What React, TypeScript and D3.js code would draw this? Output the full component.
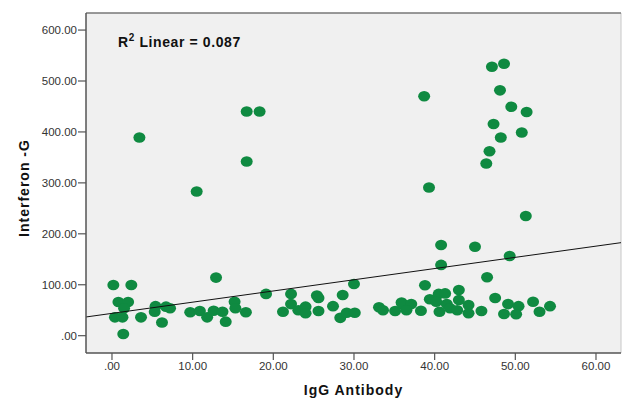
import React from "react";
import * as d3 from "d3";

const igg = [
  0.17, 2.4, 0.8, 2.0, 1.5, 0.37, 1.3, 3.6, 1.4, 5.4, 6.7, 7.2, 5.3, 6.2, 3.4,
  9.7, 10.9, 11.8, 12.6, 13.7, 14.1, 12.9, 15.2, 15.3, 16.6, 19.1, 10.5, 16.7, 18.3, 16.7,
  21.2, 22.2, 22.2, 23.1, 24.0, 24.0, 25.4, 25.6, 25.6, 27.4, 28.6, 28.3, 29.1, 30.1, 30.0,
  33.1, 33.6, 35.1, 35.9, 36.5, 36.0, 37.1, 36.5, 38.3, 38.8, 39.4, 38.7, 39.3,
  40.5, 41.3, 40.2, 40.6, 41.5, 41.9, 43.0, 43.0, 42.8, 44.2, 44.2, 45.8, 47.5, 48.6, 49.1,
  40.8, 45.0, 40.8, 46.5, 49.3, 51.3, 50.4, 50.1, 52.2, 53.0, 54.3,
  47.1, 48.6, 48.1, 49.5, 51.4, 47.3, 50.8, 48.2, 46.8, 46.4,
];
const ifng = [
  99.5, 99.5, 66, 66, 54, 36, 36, 36, 3.3, 58, 57, 54, 47, 26, 389,
  46, 48.5, 36, 49, 47, 27.5, 114, 66.7, 54, 46, 82, 283, 440, 440, 342,
  47, 82, 62, 50, 57, 44, 79, 74, 48.5, 58, 80, 35, 45, 45, 101.5,
  55.7, 50, 48.5, 65, 54, 62, 62, 50, 49, 99, 71.4, 470, 291,
  82, 83, 66.7, 47, 62, 53.8, 89.7, 70, 50, 60, 44, 48.5, 74, 42.6, 62,
  178, 174.7, 139, 114.6, 156.4, 235, 58, 42, 66.7, 47, 58,
  528, 534, 481.6, 449.5, 439, 415.5, 399, 389, 362, 338,
];
const xTicks = [0, 10, 20, 30, 40, 50, 60];
const yTicks = [0, 100, 200, 300, 400, 500, 600];
const fitIntercept = 43.8;
const fitSlope = 2.2;
const rSquared = "0.087";

const W = 622;
const H = 399;
const L = 86, R = 621, T = 13, B = 353;

export default function App() {
  const x = d3.scaleLinear().domain([-3.22, 63.1]).range([L, R]);
  const y = d3.scaleLinear().domain([-34, 633.5]).range([B, T]);
  const fmt = (v: number) => (v === 0 ? ".00" : v.toFixed(2));
  const [x0, x1] = x.domain();
  const fitLine = d3.line<number>()
    .x((d) => x(d))
    .y((d) => y(fitIntercept + fitSlope * d));
  const font = "'Liberation Sans', Arial, sans-serif";
  return (
    <svg width={W} height={H} style={{ position: "absolute", left: 0, top: 0, background: "#fff" }} fontFamily={font}>
      <rect x={L} y={T} width={R - L} height={B - T} fill="#f0f0f0" />
      <line x1={R} y1={T} x2={R} y2={B} stroke="#c8c8c8" strokeWidth={1} />
      <line x1={L} y1={T} x2={R} y2={T} stroke="#777" strokeWidth={1.5} />
      <g>
        {igg.map((v, i) => (
          <ellipse key={i} cx={x(v)} cy={y(ifng[i])} rx={6} ry={5.3} fill="#0f8a41" />
        ))}
      </g>
      <path d={fitLine([x0, x1]) || ""} stroke="#111" strokeWidth={1} fill="none" />
      <line x1={L} y1={T} x2={L} y2={B} stroke="#555" strokeWidth={1.5} />
      <line x1={L} y1={B} x2={R} y2={B} stroke="#555" strokeWidth={1.5} />
      {yTicks.map((t) => (
        <g key={t}>
          <line x1={L - 8} x2={L} y1={y(t)} y2={y(t)} stroke="#555" strokeWidth={1.2} />
          <text x={L - 9} y={y(t)} dy="0.35em" textAnchor="end" fontSize={11.5} fill="#333">
            {fmt(t)}
          </text>
        </g>
      ))}
      {xTicks.map((t) => (
        <g key={t}>
          <line x1={x(t)} x2={x(t)} y1={B} y2={B + 7} stroke="#555" strokeWidth={1.2} />
          <text x={x(t)} y={B + 17} textAnchor="middle" fontSize={11.5} fill="#333">
            {fmt(t)}
          </text>
        </g>
      ))}
      <text x={(L + R) / 2} y={395} textAnchor="middle" fontSize={14} letterSpacing={1} fontWeight="bold" fill="#111">
        IgG Antibody
      </text>
      <text transform={`translate(29,188) rotate(-90)`} textAnchor="middle" fontSize={14} letterSpacing={1} fontWeight="bold" fill="#111">
        Interferon -G
      </text>
      <text x={118} y={47} fontSize={14} letterSpacing={0.6} fontWeight="bold" fill="#111">
        R<tspan dy={-6} fontSize={10}>2</tspan>
        <tspan dy={6}> Linear = {rSquared}</tspan>
      </text>
    </svg>
  );
}
